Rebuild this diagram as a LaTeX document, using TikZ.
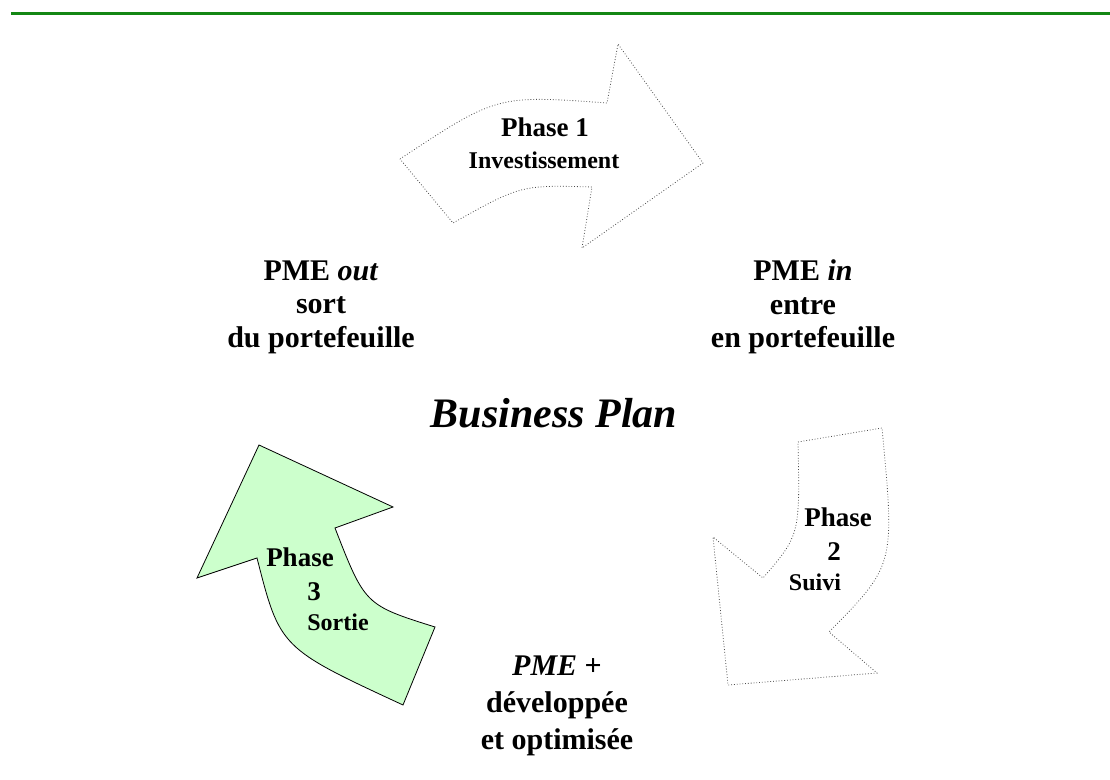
\documentclass[tikz,border=0pt]{standalone}
\usepackage{fontspec}
\setmainfont{Liberation Serif}
\usetikzlibrary{positioning}
\definecolor{bargreen}{RGB}{20,135,20}
\definecolor{exitgreen}{RGB}{204,255,204}

\tikzset{
	phasearrow/.style={densely dotted, line width=0.4pt, draw=black!70, fill=white},
	exitarrow/.style={draw=black, line width=0.4pt, fill=exitgreen},
	bigtext/.style={font=\bfseries\fontsize{15}{16.75}\selectfont, align=center},
	phasetext/.style={font=\bfseries\fontsize{13.5}{15}\selectfont},
	subtext/.style={font=\bfseries\fontsize{12}{13}\selectfont}
}

\begin{document}
\begin{tikzpicture}[x=0.5pt,y=-0.5pt]
	\useasboundingbox (0,0) rectangle (1110,780);
	% bandeau
	\draw[bargreen, line width=1.5pt] (11,14)--(1110,14);
	% fleches des phases
	\draw[phasearrow] (400,159) .. controls (497,95) .. (607,103) -- (618,44) -- (703,163) -- (582,248) -- (592,187) .. controls (521,185) .. (453,223) -- cycle;
	\draw[phasearrow] (798,442) -- (882,428) .. controls (895,565) .. (829,632) -- (877,673) -- (728,685) -- (713,537) -- (763,578) .. controls (800,535) .. cycle;
	\draw[exitarrow] (259,445) -- (393,507) -- (335,528) .. controls (365,605) .. (435,627) -- (403,705) .. controls (280,648) .. (257,558) -- (197,578) -- cycle;
	% textes
	\node[phasetext] (ph1) at (545,127) {Phase 1};
	\node[subtext] (inv) at (544,160) {Investissement};
	\node[phasetext] (ph2) at (838,517) {Phase};
	\node[phasetext] (num2) at (834,552) {2};
	\node[subtext] (suivi) at (815,582) {Suivi};
	\node[phasetext] (ph3) at (300,557) {Phase};
	\node[phasetext] (num3) at (314,592) {3};
	\node[subtext] (sortie) at (338,622) {Sortie};
	\node[bigtext] (pmeout) at (321,307) {PME \textit{out}\\sort\\du portefeuille};
	\node[bigtext] (pmein) at (803,307) {PME \textit{in}\\entre\\en portefeuille};
	\node[font=\bfseries\itshape\fontsize{21}{24}\selectfont] (bplan) at (554,413) {Business Plan};
	\node[bigtext, font=\bfseries\fontsize{15}{18.5}\selectfont] (pmeplus) at (557,706) {\textit{PME} +\\développée\\et optimisée};
\end{tikzpicture}
\end{document}
